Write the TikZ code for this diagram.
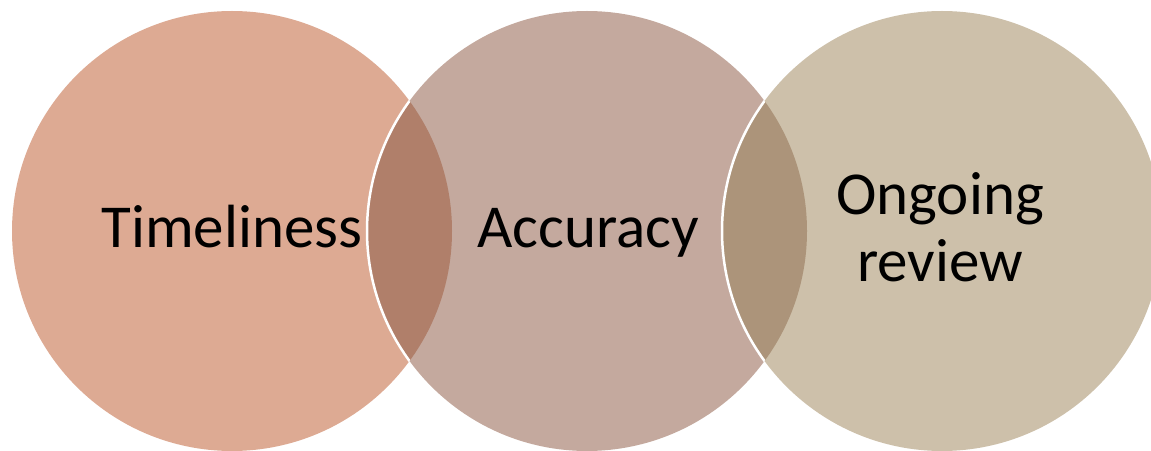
\documentclass[tikz,border=0pt]{standalone}
\usepackage{fontspec}
\setmainfont{Carlito}
\definecolor{cA}{RGB}{221,170,147}
\definecolor{cB}{RGB}{196,169,158}
\definecolor{cC}{RGB}{205,192,170}
\definecolor{lAB}{RGB}{176,127,106}
\definecolor{lBC}{RGB}{172,148,122}
\begin{document}
\begin{tikzpicture}[x=1pt,y=1pt,
  disc/.style={circle,minimum size=440pt,inner sep=0pt,outer sep=0pt},
  label/.style={font=\fontsize{61}{67}\selectfont,align=center,text=black}]
\useasboundingbox (0,0) rectangle (1151,450);
\coordinate (cA) at (232,219);
\coordinate (cB) at (587,219);
\coordinate (cC) at (942,219);
\node[disc,fill=cA] (A) at (cA) {};
\node[disc,fill=cB] (B) at (cB) {};
\node[disc,fill=cC] (C) at (cC) {};
\begin{scope}
  \clip (cA) circle (220);
  \fill[lAB] (cB) circle (220);
  \draw[white,line width=2.5pt] (cB) circle (220);
\end{scope}
\begin{scope}
  \clip (cB) circle (220);
  \fill[lBC] (cC) circle (220);
  \draw[white,line width=2.5pt] (cC) circle (220);
\end{scope}
\node[label,anchor=base] (tA) at (232,202) {Timeliness};
\node[label,anchor=base] (tB) at (588,202) {Accuracy};
\node[label,anchor=base] (tC1) at (940,235) {Ongoing};
\node[label,anchor=base] (tC2) at (940,168) {review};
\end{tikzpicture}
\end{document}
